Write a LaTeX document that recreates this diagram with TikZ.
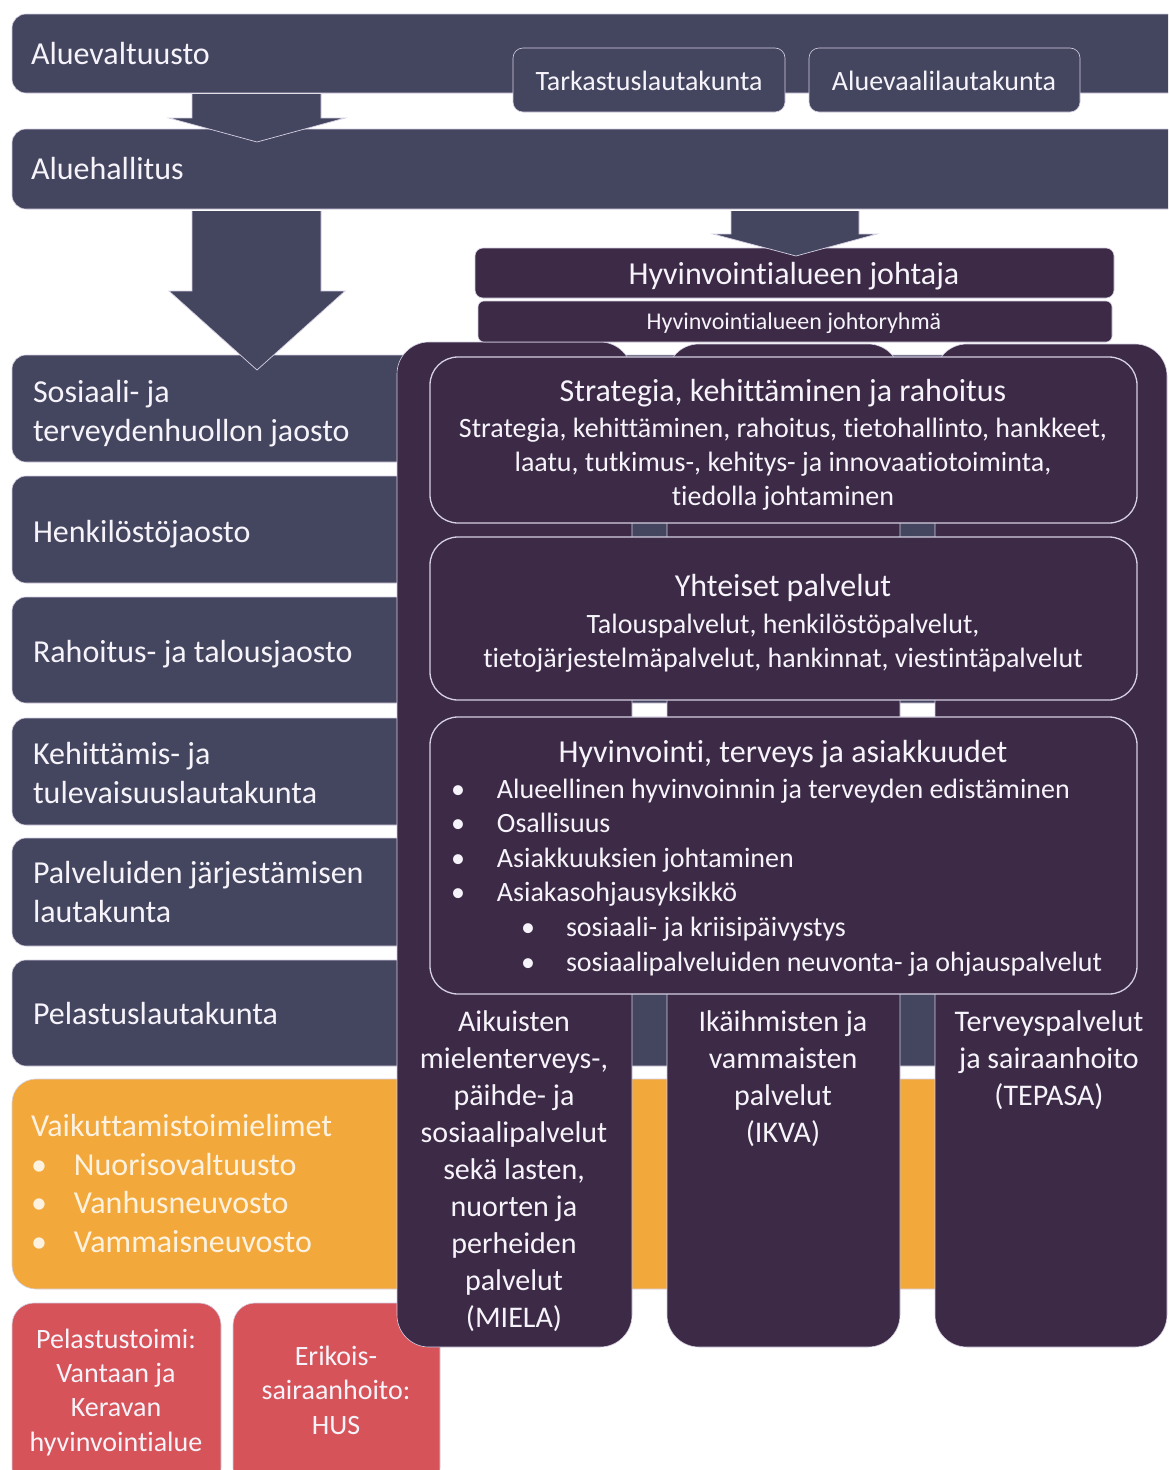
\documentclass[tikz,border=0pt]{standalone}
\usepackage{fontspec}
\setmainfont{Carlito}[Ligatures=NoCommon]
\usetikzlibrary{fit}
\definecolor{slate}{RGB}{68,70,96}
\definecolor{plum}{RGB}{60,42,70}
\definecolor{orng}{RGB}{242,168,58}
\definecolor{redb}{RGB}{214,84,89}
\definecolor{edgec}{RGB}{214,208,228}
\definecolor{txtc}{RGB}{246,244,250}
\definecolor{otxt}{RGB}{253,242,224}
\newcommand\bulA{\makebox[46pt][l]{•}}
\newcommand\bulB{\hspace*{70pt}\makebox[45pt][l]{•}}
\newcommand\bulO{\makebox[43pt][l]{•}}
\begin{document}
\begin{tikzpicture}[x=1pt,y=-1pt,
  every node/.style={inner sep=0pt, outer sep=0pt},
  sbox/.style={fill=slate, draw=edgec, line width=0.6pt, rounded corners=14pt},
  pbox/.style={fill=plum, draw=edgec, line width=0.6pt, rounded corners=8pt},
  colbox/.style={fill=plum, draw=edgec, line width=0.6pt, rounded corners=32pt},
  ibox/.style={fill=plum, draw=edgec, line width=1.3pt, rounded corners=28pt},
  obox/.style={fill=orng, draw=edgec, line width=0.6pt, rounded corners=24pt},
  rbox/.style={fill=redb, draw=edgec, line width=0.6pt, rounded corners=22pt},
  lt/.style={text=txtc, font=\fontsize{32}{39}\selectfont, align=left},
  ct/.style={text=txtc, font=\fontsize{30}{37}\selectfont, align=center},
  st/.style={text=txtc, font=\fontsize{28}{34.3}\selectfont, align=center},
  bt/.style={text=txtc, font=\fontsize{28}{34.6}\selectfont, align=left},
  tt/.style={text=txtc, font=\fontsize{32}{38}\selectfont, align=center},
  arr/.style={fill=slate},
  arredge/.style={draw=edgec, line width=0.7pt}
]
\useasboundingbox (0,0) rectangle (1168,1470);
\clip (0,0) rectangle (1168,1470);
\fill[white] (0,0) rectangle (1168,1470);

% top level
\node[sbox, fit={(12,14)(1190,93)}] (alv) {};
\node[lt, anchor=base west] (alvt) at (31,64) {Aluevaltuusto};
\node[sbox, rounded corners=10pt, fit={(513,48)(785,112)}] (tark) {};
\node[st, anchor=base] (tarkt) at (649,90) {Tarkastuslautakunta};
\node[sbox, rounded corners=10pt, fit={(809,48)(1080,112)}] (avl) {};
\node[st, anchor=base] (avlt) at (944,90) {Aluevaalilautakunta};

\node[sbox, fit={(12,129)(1190,209)}] (alh) {};
\node[lt, anchor=base west] (alht) at (31,179) {Aluehallitus};

% arrow 1
\path[arr] (192,94) -- (321,94) -- (321,118) -- (345,118) -- (257,142) -- (169,118) -- (192,118) -- cycle;
\path[arredge] (192,94) -- (192,118) -- (169,118) -- (257,142) -- (345,118) -- (321,118) -- (321,94);

% left boxes
\node[sbox, fit={(12,355)(1150,462)}] (sos) {};
\node[lt, anchor=base west] (sost) at (33,441) {Sosiaali- ja\\terveydenhuollon jaosto};
\node[sbox, fit={(12,476)(1150,583)}] (hen) {};
\node[lt, anchor=base west] (hent) at (33,542) {Henkilöstöjaosto};
\node[sbox, fit={(12,597)(1150,703)}] (rah) {};
\node[lt, anchor=base west] (raht) at (33,662) {Rahoitus- ja talousjaosto};
\node[sbox, fit={(12,718)(1150,825)}] (keh) {};
\node[lt, anchor=base west] (keht) at (33,803) {Kehittämis- ja\\tulevaisuuslautakunta};
\node[sbox, fit={(12,838)(1150,946)}] (pal) {};
\node[lt, anchor=base west] (palt) at (33,922) {Palveluiden järjestämisen\\lautakunta};
\node[sbox, fit={(12,960)(1150,1066)}] (pel) {};
\node[lt, anchor=base west] (pelt) at (33,1024) {Pelastuslautakunta};

% orange
\node[obox, fit={(12,1079)(1150,1289)}] (vai) {};
\node[lt, text=otxt, font=\fontsize{32}{38.5}\selectfont, anchor=base west] (vait) at (31,1252)
  {Vaikuttamistoimielimet\\\bulO Nuorisovaltuusto\\\bulO Vanhusneuvosto\\\bulO Vammaisneuvosto};

% red boxes
\node[rbox, fit={(12,1303)(221,1490)}] (pto) {};
\node[st, anchor=base] (ptot) at (116,1451) {Pelastustoimi:\\Vantaan ja\\Keravan\\hyvinvointialue};
\node[rbox, fit={(233,1303)(440,1490)}] (eri) {};
\node[st, anchor=base] (erit) at (336,1434) {Erikois-\\sairaanhoito:\\HUS};

% arrow 2
\path[arr] (192,211) -- (321,211) -- (321,291) -- (345,291) -- (257,370) -- (169,291) -- (192,291) -- cycle;
\path[arredge] (192,211) -- (192,291) -- (169,291) -- (257,370) -- (345,291) -- (321,291) -- (321,211);

% columns
\node[colbox, fit={(397,342)(632,1347)}] (col1) {};
\node[colbox, fit={(667,344)(900,1347)}] (col2) {};
\node[colbox, fit={(935,344)(1167,1347)}] (col3) {};

% director
\node[pbox, fit={(475,248)(1114,298)}] (joh) {};
\node[tt, anchor=base] (joht) at (794,284) {Hyvinvointialueen johtaja};
\node[pbox, rounded corners=6pt, fit={(478,301)(1112,342)}] (jry) {};
\node[text=txtc, font=\fontsize{24}{29}\selectfont, anchor=base] (jryt) at (794,329) {Hyvinvointialueen johtoryhmä};

% arrow 3
\path[arr] (731,211) -- (859,211) -- (859,234) -- (877,234) -- (796,256) -- (713,234) -- (731,234) -- cycle;
\path[arredge] (731,211) -- (731,234) -- (713,234) -- (796,256) -- (877,234) -- (859,234) -- (859,211);

% inner boxes
\node[ibox, fit={(430,357)(1137,523)}] (skr) {};
\node[tt, anchor=base] (skrt) at (783,401) {Strategia, kehittäminen ja rahoitus};
\node[st, anchor=base] (skrs) at (783,505.6) {Strategia, kehittäminen, rahoitus, tietohallinto, hankkeet,\\laatu, tutkimus-, kehitys- ja innovaatiotoiminta,\\tiedolla johtaminen};

\node[ibox, fit={(430,537)(1137,700)}] (yht) {};
\node[tt, anchor=base] (yhtt) at (783,596) {Yhteiset palvelut};
\node[st, anchor=base] (yhts) at (783,667.3) {Talouspalvelut, henkilöstöpalvelut,\\tietojärjestelmäpalvelut, hankinnat, viestintäpalvelut};

\node[ibox, fit={(430,717)(1137,994)}] (hta) {};
\node[tt, anchor=base] (htat) at (783,762) {Hyvinvointi, terveys ja asiakkuudet};
\node[bt, anchor=base west] (htab) at (451,971)
  {\bulA Alueellinen hyvinvoinnin ja terveyden edistäminen\\
   \bulA Osallisuus\\
   \bulA Asiakkuuksien johtaminen\\
   \bulA Asiakasohjausyksikkö\\
   \bulB sosiaali- ja kriisipäivystys\\
   \bulB sosiaalipalveluiden neuvonta- ja ohjauspalvelut};

% column texts
\node[ct, anchor=base] (c1t) at (514,1327) {Aikuisten\\mielenterveys-,\\päihde- ja\\sosiaalipalvelut\\sekä lasten,\\nuorten ja\\perheiden\\palvelut\\(MIELA)};
\node[ct, anchor=base] (c2t) at (783,1142) {Ikäihmisten ja\\vammaisten\\palvelut\\(IKVA)};
\node[ct, anchor=base] (c3t) at (1049,1105) {Terveyspalvelut\\ja sairaanhoito\\(TEPASA)};
\end{tikzpicture}
\end{document}
